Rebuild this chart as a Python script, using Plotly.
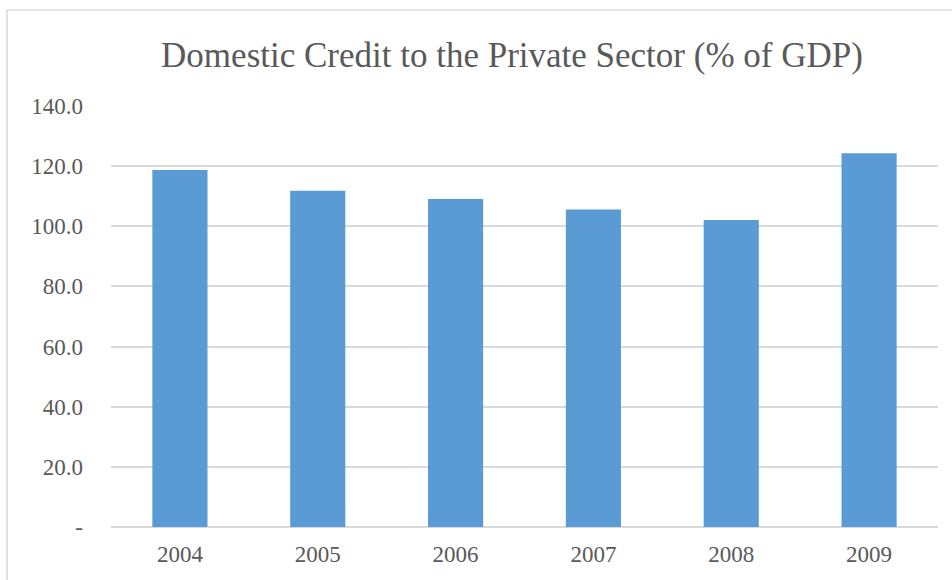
import plotly.graph_objects as go

years = ["2004", "2005", "2006", "2007", "2008", "2009"]
credit = [118.7, 111.8, 109.1, 105.6, 102.1, 124.3]
y_ticks = [0, 20, 40, 60, 80, 100, 120, 140]
y_ticktext = ["-", "20.0", "40.0", "60.0", "80.0", "100.0", "120.0", "140.0"]

fig = go.Figure(go.Bar(x=years, y=credit, marker=dict(color="#5B9BD5", line=dict(width=0))))

L, R, T, B = 111, 14, 106, 53
W, H = 952, 580
pw, ph = W - L - R, H - T - B

fig.update_layout(
    width=W, height=H,
    margin=dict(l=L, r=R, t=T, b=B),
    paper_bgcolor="white", plot_bgcolor="white",
    bargap=0.6,
    showlegend=False,
    title=dict(text="Domestic Credit to the Private Sector (% of GDP)",
               x=512 / W, xanchor="center", y=1 - 55 / H, yanchor="middle",
               font=dict(family="Liberation Serif", size=35, color="#595959")),
    font=dict(family="Liberation Serif", size=23, color="#595959"),
    xaxis=dict(showgrid=False, showline=False, ticks="", ticklabelstandoff=11,
               tickfont=dict(size=23, color="#595959")),
    yaxis=dict(range=[0, 140], tickvals=y_ticks, ticktext=y_ticktext,
               showgrid=True, gridcolor="#D9D9D9", gridwidth=1.5,
               zeroline=True, zerolinecolor="#D9D9D9", zerolinewidth=1.5,
               showline=False, ticks="", ticklabelstandoff=27,
               tickfont=dict(size=23, color="#595959")),
    shapes=[dict(type="rect", xref="paper", yref="paper",
                 x0=(7 - L) / pw, x1=1.2, y0=-0.3, y1=1 + (T - 10) / ph,
                 line=dict(color="#D9D9D9", width=1.5), fillcolor="rgba(0,0,0,0)", layer="below")],
)

fig.write_html("out.html")
